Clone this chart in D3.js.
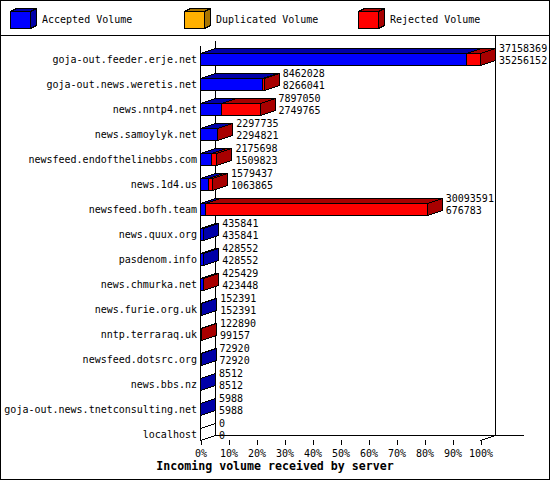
<!DOCTYPE html>
<html>
<head>
<meta charset="utf-8">
<script src="https://d3js.org/d3.v7.min.js"></script>
<style>
    body { margin: 0; background: #fff; }
    text { font-family: "DejaVu Sans Mono", monospace; font-size: 10px; fill: #000; }
    .title { font-weight: bold; font-size: 11.6px; }
</style>
</head>
<body>
<div id="chart"></div>
<script>
const servers = [
    "goja-out.feeder.erje.net", "goja-out.news.weretis.net", "news.nntp4.net",
    "news.samoylyk.net", "newsfeed.endofthelinebbs.com", "news.1d4.us",
    "newsfeed.bofh.team", "news.quux.org", "pasdenom.info", "news.chmurka.net",
    "news.furie.org.uk", "nntp.terraraq.uk", "newsfeed.dotsrc.org", "news.bbs.nz",
    "goja-out.news.tnetconsulting.net", "localhost"
];
const totalVolume = [37158369, 8462028, 7897050, 2297735, 2175698, 1579437, 30093591,
    435841, 428552, 425429, 152391, 122890, 72920, 8512, 5988, 0];
const acceptedVolume = [35256152, 8266041, 2749765, 2294821, 1509823, 1063865, 676783,
    435841, 428552, 423448, 152391, 99157, 72920, 8512, 5988, 0];
const duplicatedVolume = [0, 0, 0, 0, 0, 0, 0, 0, 0, 0, 0, 0, 0, 0, 0, 0];
const rejectedVolume = [1902217, 195987, 5147285, 2914, 665875, 515572, 29416808,
    0, 0, 1981, 0, 23733, 0, 0, 0, 0];

const seriesNames = ["Accepted Volume", "Duplicated Volume", "Rejected Volume"];
const seriesColors = ["#0000ff", "#ffb000", "#ff0000"];
const seriesShades = ["#0000a8", "#a87400", "#a80000"];
const percentTicks = [0, 10, 20, 30, 40, 50, 60, 70, 80, 90, 100];

class VolumeChart {

    constructor(parentElement) {
        this.parentElement = parentElement
        this.initVis()
    }

    initVis() {
        let vis = this;

        vis.width = 550;
        vis.height = 480;
        // 3d depth of the boxes
        vis.dx = 15;
        vis.dy = 5;

        vis.svg = d3.select("#" + vis.parentElement).append("svg")
            .attr("width", vis.width)
            .attr("height", vis.height);

        vis.svg.append("rect")
            .attr("x", 0.5).attr("y", 0.5)
            .attr("width", vis.width - 1).attr("height", vis.height - 1)
            .attr("fill", "#fff").attr("stroke", "black");

        vis.line(0, 35, vis.width, 35);

        // Legend
        seriesNames.forEach(function(name, i) {
            let lx = 10 + i * 174;
            vis.box(vis.svg, lx, lx + 20, 11, 17, seriesColors[i], seriesShades[i], 6, 3);
            vis.svg.append("text")
                .attr("x", 42 + i * 174)
                .attr("y", 23)
                .text(name);
        });

        vis.x = d3.scaleLinear()
            .domain([0, d3.max(totalVolume)])
            .range([200, 480]);

        vis.pct = d3.scaleLinear()
            .domain([0, 100])
            .range([200, 480]);

        vis.y = d3.scaleBand()
            .domain(servers)
            .range([40, 440]);

        // Walls
        vis.line(215, 40, 215, 435);
        vis.line(495, 35, 495, 435);
        vis.line(215, 435, 523, 435);
        vis.line(200, 45, 200, 440);
        vis.line(200, 440, 215, 435);
        vis.line(480, 440, 495, 435);

        // Percentage axis
        let axis = vis.svg.append("g")
            .attr("transform", "translate(0.5,440)")
            .call(d3.axisBottom(vis.pct)
                .tickValues(percentTicks)
                .tickSize(5)
                .tickPadding(5)
                .tickFormat(d => d + "%"));
        axis.select(".domain").remove();
        axis.selectAll("line").attr("stroke", "black").attr("shape-rendering", "crispEdges");
        axis.selectAll("text").attr("font-family", null).attr("font-size", null);

        vis.svg.append("text")
            .attr("class", "title")
            .attr("x", 275)
            .attr("y", 470)
            .attr("text-anchor", "middle")
            .text("Incoming volume received by server");

        // Bars
        let rows = servers.map((s, i) => ({
            server: s,
            accepted: acceptedVolume[i],
            duplicated: duplicatedVolume[i],
            rejected: rejectedVolume[i],
            total: totalVolume[i],
            acc: acceptedVolume[i]
        }));
        let stack = d3.stack().keys(["accepted", "duplicated", "rejected"])(rows);

        let h = 12;
        rows.forEach(function(row, i) {
            let yTop = vis.y(row.server) + vis.y.bandwidth() - h;
            let g = vis.svg.append("g");

            if (row.total === 0) {
                vis.line(200, yTop, 200 + vis.dx, yTop - vis.dy);
            }
            stack.forEach(function(layer, k) {
                let seg = layer[i];
                if (seg[1] - seg[0] <= 0) return;
                vis.box(g, vis.x(seg[0]), vis.x(seg[1]), yTop, h,
                    seriesColors[k], seriesShades[k], vis.dx, vis.dy);
            });

            let tx = vis.x(row.total) + vis.dx + 4;
            vis.svg.append("text")
                .attr("x", tx).attr("y", yTop - 1)
                .text(row.total);
            vis.svg.append("text")
                .attr("x", tx).attr("y", yTop + h - 1)
                .text(row.acc);

            vis.svg.append("text")
                .attr("x", 197)
                .attr("y", yTop + h - 2)
                .attr("text-anchor", "end")
                .text(row.server);
        });
    }

    line(x1, y1, x2, y2) {
        let vis = this;
        vis.svg.append("line")
            .attr("x1", x1 + 0.5).attr("y1", y1 + 0.5)
            .attr("x2", x2 + 0.5).attr("y2", y2 + 0.5)
            .attr("stroke", "black")
            .attr("shape-rendering", "crispEdges");
    }

    box(g, x0, x1, yTop, h, color, shade, dx, dy) {
        x0 = Math.round(x0) + 0.5;
        x1 = Math.round(x1) + 0.5;
        yTop = Math.round(yTop) + 0.5;

        let pts = p => p.map(d => d.join(",")).join(" ");

        g.append("rect")
            .attr("x", x0).attr("y", yTop)
            .attr("width", x1 - x0).attr("height", h)
            .attr("fill", color).attr("stroke", "black")
            .attr("shape-rendering", "crispEdges");

        g.append("polygon")
            .attr("points", pts([[x0, yTop], [x0 + dx, yTop - dy], [x1 + dx, yTop - dy], [x1, yTop]]))
            .attr("fill", shade).attr("stroke", "black")
            .attr("shape-rendering", "crispEdges");

        g.append("polygon")
            .attr("points", pts([[x1, yTop], [x1 + dx, yTop - dy], [x1 + dx, yTop + h - dy], [x1, yTop + h]]))
            .attr("fill", shade).attr("stroke", "black")
            .attr("shape-rendering", "crispEdges");
    }
}

new VolumeChart("chart");
</script>
</body>
</html>
